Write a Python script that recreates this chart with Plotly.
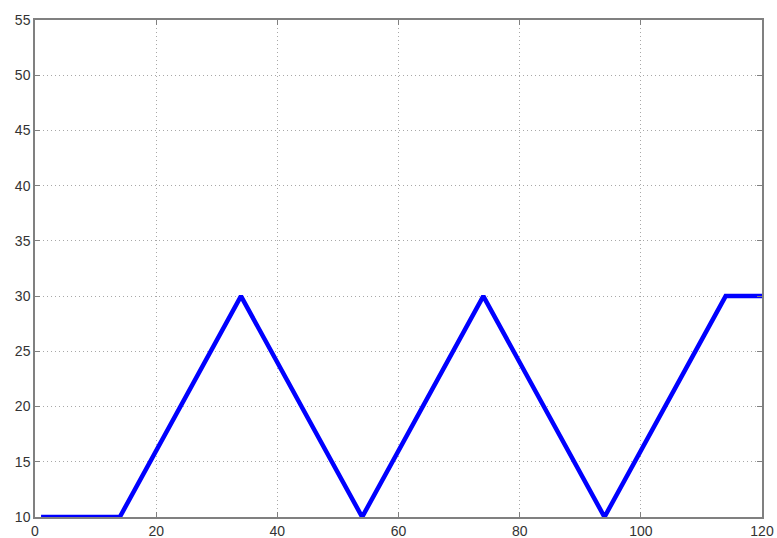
import plotly.graph_objects as go

x_vals = [1, 14, 34, 54, 74, 94, 114, 120]
y_vals = [10, 10, 30, 10, 30, 10, 30, 30]
x_ticks = [0, 20, 40, 60, 80, 100, 120]
y_ticks = [10, 15, 20, 25, 30, 35, 40, 45, 50, 55]

fig = go.Figure()
fig.add_trace(go.Scatter(x=x_vals, y=y_vals, mode="lines",
                         line=dict(color="#0000ff", width=4.5), showlegend=False))

axis_common = dict(showline=True, linecolor="#808080", linewidth=1.5, mirror="ticks",
                   ticks="inside", ticklen=5, tickcolor="#808080",
                   showgrid=True, gridcolor="#a8a8a8", griddash="1px,3px", gridwidth=1,
                   zeroline=False, automargin=False,
                   tickfont=dict(family="Liberation Sans, Arial", size=14, color="#333"))

fig.update_xaxes(range=[0, 120], tickvals=x_ticks, **axis_common)
fig.update_yaxes(range=[10, 55], tickvals=y_ticks, **axis_common)

fig.update_layout(width=777, height=538, margin=dict(l=35, r=15, t=20, b=21),
                  plot_bgcolor="white", paper_bgcolor="white")
fig.write_html("out.html", config={"displayModeBar": False},
               post_script="document.body.style.margin='0';document.body.style.overflow='hidden';")
